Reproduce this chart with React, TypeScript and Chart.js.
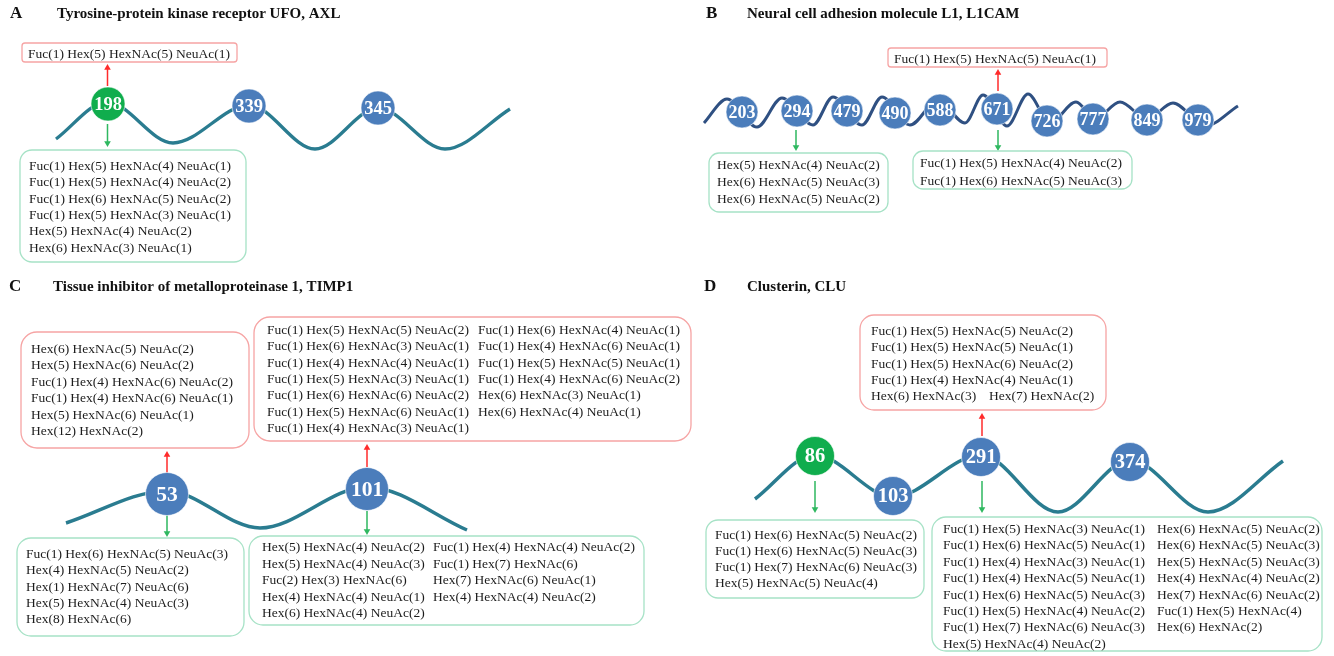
import { useEffect, useRef } from 'react';
import { Chart, registerables } from 'chart.js';

Chart.register(...registerables);

const W = 1334;
const H = 656;

// ---------------- data ----------------
const panelLetters = ['A', 'B', 'C', 'D'];
const panelTitles = [
  'Tyrosine-protein kinase receptor UFO, AXL',
  'Neural cell adhesion molecule L1, L1CAM',
  'Tissue inhibitor of metalloproteinase 1, TIMP1',
  'Clusterin, CLU',
];

const axlSites = ['198', '339', '345'];
const l1camSites = ['203', '294', '479', '490', '588', '671', '726', '777', '849', '979'];
const timp1Sites = ['53', '101'];
const cluSites = ['86', '103', '291', '374'];
const highlightedSites = ['198', '86'];

const axl198Up = [['Fuc(1) Hex(5) HexNAc(5) NeuAc(1)']];
const axl198Down = [
  ['Fuc(1) Hex(5) HexNAc(4) NeuAc(1)'],
  ['Fuc(1) Hex(5) HexNAc(4) NeuAc(2)'],
  ['Fuc(1) Hex(6) HexNAc(5) NeuAc(2)'],
  ['Fuc(1) Hex(5) HexNAc(3) NeuAc(1)'],
  ['Hex(5) HexNAc(4) NeuAc(2)'],
  ['Hex(6) HexNAc(3) NeuAc(1)'],
];

const l1cam671Up = [['Fuc(1) Hex(5) HexNAc(5) NeuAc(1)']];
const l1cam294Down = [
  ['Hex(5) HexNAc(4) NeuAc(2)'],
  ['Hex(6) HexNAc(5) NeuAc(3)'],
  ['Hex(6) HexNAc(5) NeuAc(2)'],
];
const l1cam671Down = [
  ['Fuc(1) Hex(5) HexNAc(4) NeuAc(2)'],
  ['Fuc(1) Hex(6) HexNAc(5) NeuAc(3)'],
];

const timp53Up = [
  ['Hex(6) HexNAc(5) NeuAc(2)'],
  ['Hex(5) HexNAc(6) NeuAc(2)'],
  ['Fuc(1) Hex(4) HexNAc(6) NeuAc(2)'],
  ['Fuc(1) Hex(4) HexNAc(6) NeuAc(1)'],
  ['Hex(5) HexNAc(6) NeuAc(1)'],
  ['Hex(12) HexNAc(2)'],
];
const timp101Up = [
  ['Fuc(1) Hex(5) HexNAc(5) NeuAc(2)', 'Fuc(1) Hex(6) HexNAc(4) NeuAc(1)'],
  ['Fuc(1) Hex(6) HexNAc(3) NeuAc(1)', 'Fuc(1) Hex(4) HexNAc(6) NeuAc(1)'],
  ['Fuc(1) Hex(4) HexNAc(4) NeuAc(1)', 'Fuc(1) Hex(5) HexNAc(5) NeuAc(1)'],
  ['Fuc(1) Hex(5) HexNAc(3) NeuAc(1)', 'Fuc(1) Hex(4) HexNAc(6) NeuAc(2)'],
  ['Fuc(1) Hex(6) HexNAc(6) NeuAc(2)', 'Hex(6) HexNAc(3) NeuAc(1)'],
  ['Fuc(1) Hex(5) HexNAc(6) NeuAc(1)', 'Hex(6) HexNAc(4) NeuAc(1)'],
  ['Fuc(1) Hex(4) HexNAc(3) NeuAc(1)'],
];
const timp53Down = [
  ['Fuc(1) Hex(6) HexNAc(5) NeuAc(3)'],
  ['Hex(4) HexNAc(5) NeuAc(2)'],
  ['Hex(1) HexNAc(7) NeuAc(6)'],
  ['Hex(5) HexNAc(4) NeuAc(3)'],
  ['Hex(8) HexNAc(6)'],
];
const timp101Down = [
  ['Hex(5) HexNAc(4) NeuAc(2)', 'Fuc(1) Hex(4) HexNAc(4) NeuAc(2)'],
  ['Hex(5) HexNAc(4) NeuAc(3)', 'Fuc(1) Hex(7) HexNAc(6)'],
  ['Fuc(2) Hex(3) HexNAc(6)', 'Hex(7) HexNAc(6) NeuAc(1)'],
  ['Hex(4) HexNAc(4) NeuAc(1)', 'Hex(4) HexNAc(4) NeuAc(2)'],
  ['Hex(6) HexNAc(4) NeuAc(2)'],
];

const clu291Up = [
  ['Fuc(1) Hex(5) HexNAc(5) NeuAc(2)'],
  ['Fuc(1) Hex(5) HexNAc(5) NeuAc(1)'],
  ['Fuc(1) Hex(5) HexNAc(6) NeuAc(2)'],
  ['Fuc(1) Hex(4) HexNAc(4) NeuAc(1)'],
  ['Hex(6) HexNAc(3)', 'Hex(7) HexNAc(2)'],
];
const clu86Down = [
  ['Fuc(1) Hex(6) HexNAc(5) NeuAc(2)'],
  ['Fuc(1) Hex(6) HexNAc(5) NeuAc(3)'],
  ['Fuc(1) Hex(7) HexNAc(6) NeuAc(3)'],
  ['Hex(5) HexNAc(5) NeuAc(4)'],
];
const clu291Down = [
  ['Fuc(1) Hex(5) HexNAc(3) NeuAc(1)', 'Hex(6) HexNAc(5) NeuAc(2)'],
  ['Fuc(1) Hex(6) HexNAc(5) NeuAc(1)', 'Hex(6) HexNAc(5) NeuAc(3)'],
  ['Fuc(1) Hex(4) HexNAc(3) NeuAc(1)', 'Hex(5) HexNAc(5) NeuAc(3)'],
  ['Fuc(1) Hex(4) HexNAc(5) NeuAc(1)', 'Hex(4) HexNAc(4) NeuAc(2)'],
  ['Fuc(1) Hex(6) HexNAc(5) NeuAc(3)', 'Hex(7) HexNAc(6) NeuAc(2)'],
  ['Fuc(1) Hex(5) HexNAc(4) NeuAc(2)', 'Fuc(1) Hex(5) HexNAc(4)'],
  ['Fuc(1) Hex(7) HexNAc(6) NeuAc(3)', 'Hex(6) HexNAc(2)'],
  ['Hex(5) HexNAc(4) NeuAc(2)'],
];

// ---------------- layout (positions / styles) ----------------
const FONT = '"Liberation Serif", "Times New Roman", serif';
const BLUE = '#4b7dbb';
const GREEN = '#10ad4d';
const TEAL = '#2a7c90';
const NAVY = '#2f5082';
const RED_ARROW = '#ff2b2b';
const GREEN_ARROW = '#2fb860';
const RED_BORDER = '#f6a4a4';
const GREEN_BORDER = '#a6e2c6';

const titleLayout = [
  { lx: 10, tx: 57, y: 14 },
  { lx: 706, tx: 747, y: 14 },
  { lx: 9, tx: 53, y: 287 },
  { lx: 704, tx: 747, y: 287 },
];

const panels = [
  {
    sites: axlSites, pos: [[108, 104], [249, 106], [378, 108]], r: 17, fs: 18.5,
    wave: [[56, 139], [107, 102], [173, 143], [249, 105], [315, 149], [378, 108], [445, 149], [510, 109]],
    lineColor: TEAL, lw: 3.3,
  },
  {
    sites: l1camSites,
    pos: [[742, 112], [797, 111], [847, 111], [895, 113], [940, 110], [997, 109], [1047, 121], [1093, 119], [1147, 120], [1198, 120]],
    r: 16, fs: 18,
    wave: [[704, 123], [727, 99], [757, 127], [782, 98], [813, 125], [833, 97], [862, 125], [882, 97], [910, 125], [938, 100], [965, 123], [983, 95], [1007, 126], [1028, 94], [1050, 123], [1076, 102], [1095, 119], [1120, 102], [1147, 119], [1173, 103], [1205, 126], [1238, 106]],
    lineColor: NAVY, lw: 3,
  },
  {
    sites: timp1Sites, pos: [[167, 494], [367, 489]], r: 21.5, fs: 21.5,
    wave: [[66, 523], [167, 491], [260, 528], [367, 487], [467, 530]],
    lineColor: TEAL, lw: 3.5,
  },
  {
    sites: cluSites, pos: [[815, 456], [893, 496], [981, 457], [1130, 462]], r: 19.5, fs: 20.5,
    wave: [[755, 499], [815, 455], [893, 497], [981, 455], [1058, 512], [1130, 460], [1208, 512], [1283, 461]],
    lineColor: TEAL, lw: 3.5,
  },
];

// arrows: x, from y, to (tip) y
const arrows = [
  { x: 107.5, y1: 86, y2: 64, c: RED_ARROW },
  { x: 107.5, y1: 124, y2: 147, c: GREEN_ARROW },
  { x: 998, y1: 91, y2: 69, c: RED_ARROW },
  { x: 796, y1: 130, y2: 151, c: GREEN_ARROW },
  { x: 998, y1: 130, y2: 151, c: GREEN_ARROW },
  { x: 167, y1: 473, y2: 451, c: RED_ARROW },
  { x: 367, y1: 467, y2: 444, c: RED_ARROW },
  { x: 167, y1: 515, y2: 537, c: GREEN_ARROW },
  { x: 367, y1: 511, y2: 535, c: GREEN_ARROW },
  { x: 982, y1: 436, y2: 413, c: RED_ARROW },
  { x: 815, y1: 481, y2: 513, c: GREEN_ARROW },
  { x: 982, y1: 481, y2: 513, c: GREEN_ARROW },
];

const boxes = [
  { rows: axl198Up, b: [22, 43, 237, 62], r: 3, c: RED_BORDER, cols: [28], y0: 54, gap: 16.3 },
  { rows: axl198Down, b: [20, 150, 246, 262], r: 12, c: GREEN_BORDER, cols: [29], y0: 166.5, gap: 16.3 },
  { rows: l1cam671Up, b: [888, 48, 1107, 67], r: 3, c: RED_BORDER, cols: [894], y0: 59, gap: 16.3 },
  { rows: l1cam294Down, b: [709, 153, 888, 212], r: 10, c: GREEN_BORDER, cols: [717], y0: 165.5, gap: 16.8 },
  { rows: l1cam671Down, b: [913, 151, 1132, 189], r: 10, c: GREEN_BORDER, cols: [920], y0: 163.5, gap: 17.5 },
  { rows: timp53Up, b: [21, 332, 249, 448], r: 16, c: RED_BORDER, cols: [31], y0: 349.5, gap: 16.4 },
  { rows: timp101Up, b: [254, 317, 691, 441], r: 16, c: RED_BORDER, cols: [267, 478], y0: 330.5, gap: 16.3 },
  { rows: timp53Down, b: [17, 538, 244, 636], r: 14, c: GREEN_BORDER, cols: [26], y0: 554.5, gap: 16.25 },
  { rows: timp101Down, b: [249, 536, 644, 625], r: 14, c: GREEN_BORDER, cols: [262, 433], y0: 547.5, gap: 16.5 },
  { rows: clu291Up, b: [860, 315, 1106, 410], r: 14, c: RED_BORDER, cols: [871, 989], y0: 331.5, gap: 16.25 },
  { rows: clu86Down, b: [706, 520, 924, 598], r: 12, c: GREEN_BORDER, cols: [715], y0: 535.5, gap: 16 },
  { rows: clu291Down, b: [932, 517, 1322, 651], r: 14, c: GREEN_BORDER, cols: [943, 1157], y0: 529.5, gap: 16.4 },
];

const HEAD = 3.8;

function buildDatasets() {
  const ds: any[] = [];
  panels.forEach((p) => {
    ds.push({
      type: 'line',
      data: p.wave.map(([x, y]) => ({ x, y })),
      borderColor: p.lineColor,
      borderWidth: p.lw,
      pointRadius: 0,
      cubicInterpolationMode: 'monotone',
      fill: false,
      order: 3,
    });
    ds.push({
      type: 'scatter',
      data: p.pos.map(([x, y]) => ({ x, y })),
      siteLabels: p.sites,
      labelSize: p.fs,
      pointRadius: p.r,
      pointHoverRadius: p.r,
      pointBackgroundColor: p.sites.map((s) => (highlightedSites.includes(s) ? GREEN : BLUE)),
      pointBorderColor: 'rgba(255,255,255,0.6)',
      pointBorderWidth: 1,
      showLine: false,
      order: 1,
    });
  });
  arrows.forEach((a) => {
    const up = a.y2 < a.y1;
    const headY = up ? a.y2 + HEAD : a.y2 - HEAD;
    ds.push({
      type: 'line',
      data: [{ x: a.x, y: a.y1 }, { x: a.x, y: headY }],
      borderColor: a.c,
      borderWidth: 1.5,
      pointRadius: [0, HEAD],
      pointStyle: 'triangle',
      pointRotation: up ? 0 : 180,
      pointBackgroundColor: a.c,
      pointBorderColor: a.c,
      pointBorderWidth: 0,
      order: 2,
    });
  });
  return ds;
}

const diagramPlugin = {
  id: 'glycoDiagram',
  afterDatasetsDraw(chart: any) {
    const ctx = chart.ctx as CanvasRenderingContext2D;
    const xs = chart.scales.x;
    const ys = chart.scales.y;
    ctx.save();
    // circle labels
    chart.data.datasets.forEach((d: any, i: number) => {
      if (!d.siteLabels) return;
      const meta = chart.getDatasetMeta(i);
      ctx.fillStyle = '#ffffff';
      ctx.font = `bold ${d.labelSize}px ${FONT}`;
      ctx.textAlign = 'center';
      ctx.textBaseline = 'middle';
      meta.data.forEach((el: any, j: number) => {
        ctx.fillText(d.siteLabels[j], el.x, el.y + 1);
      });
    });
    // boxes
    boxes.forEach((bx) => {
      const [x1, y1, x2, y2] = bx.b;
      const px1 = xs.getPixelForValue(x1);
      const px2 = xs.getPixelForValue(x2);
      const py1 = ys.getPixelForValue(y1);
      const py2 = ys.getPixelForValue(y2);
      ctx.beginPath();
      const rr: any = ctx;
      if (rr.roundRect) rr.roundRect(px1, py1, px2 - px1, py2 - py1, bx.r);
      else ctx.rect(px1, py1, px2 - px1, py2 - py1);
      ctx.fillStyle = '#ffffff';
      ctx.fill();
      ctx.strokeStyle = bx.c;
      ctx.lineWidth = 1.3;
      ctx.stroke();
      ctx.fillStyle = '#1c1c1c';
      ctx.font = `13.5px ${FONT}`;
      ctx.textAlign = 'left';
      ctx.textBaseline = 'middle';
      bx.rows.forEach((row, ri) => {
        row.forEach((txt, ci) => {
          ctx.fillText(txt, xs.getPixelForValue(bx.cols[ci]), ys.getPixelForValue(bx.y0 + ri * bx.gap));
        });
      });
    });
    // titles
    ctx.fillStyle = '#111111';
    ctx.textBaseline = 'middle';
    ctx.textAlign = 'left';
    titleLayout.forEach((t, i) => {
      ctx.font = `bold 17px ${FONT}`;
      ctx.fillText(panelLetters[i], xs.getPixelForValue(t.lx), ys.getPixelForValue(t.y));
      ctx.font = `bold 15px ${FONT}`;
      ctx.fillText(panelTitles[i], xs.getPixelForValue(t.tx), ys.getPixelForValue(t.y));
    });
    ctx.restore();
  },
};

export default function App() {
  const ref = useRef<HTMLCanvasElement | null>(null);
  useEffect(() => {
    if (!ref.current) return;
    const chart = new Chart(ref.current, {
      type: 'scatter',
      data: { datasets: buildDatasets() },
      options: {
        responsive: false,
        animation: false,
        events: [],
        layout: { padding: 0, autoPadding: false },
        plugins: { legend: { display: false }, tooltip: { enabled: false } },
        scales: {
          x: { type: 'linear', min: 0, max: W, display: false },
          y: { type: 'linear', min: 0, max: H, reverse: true, display: false },
        },
      } as any,
      plugins: [diagramPlugin],
    });
    return () => chart.destroy();
  }, []);
  return (
    <div style={{ position: 'fixed', left: 0, top: 0, width: W, height: H, background: '#ffffff' }}>
      <canvas ref={ref} width={W} height={H} style={{ display: 'block', width: W, height: H }} />
    </div>
  );
}
